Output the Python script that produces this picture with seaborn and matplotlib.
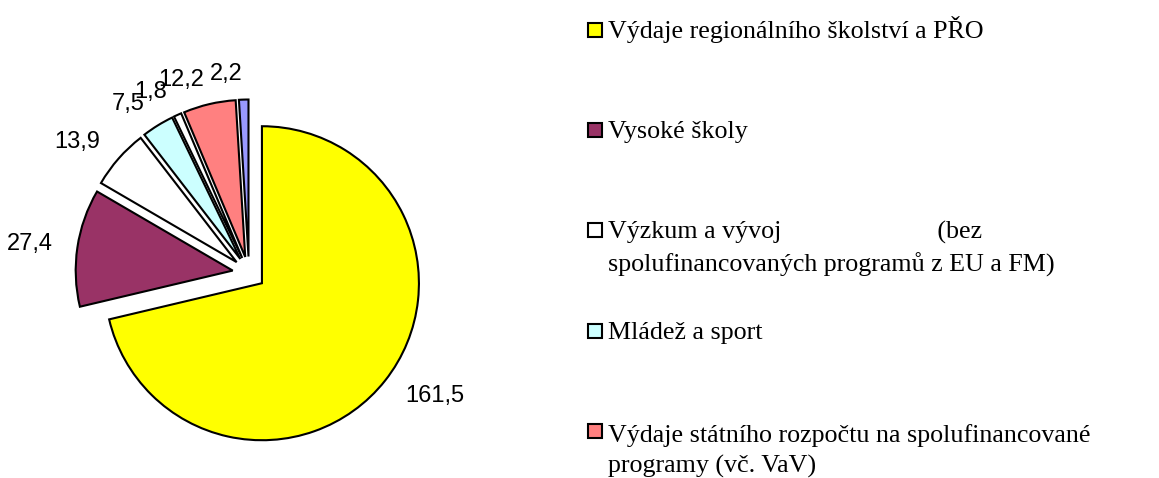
import matplotlib
matplotlib.use('Agg')
import matplotlib.pyplot as plt
import seaborn as sns
from matplotlib.patches import Rectangle

# slice values (mld Kč) in drawing order, clockwise from 12 o'clock
values = [161.5, 27.4, 13.9, 7.5, 1.8, 12.2, 2.2]
value_labels = ['161,5', '27,4', '13,9', '7,5', '1,8', '12,2', '2,2']
slice_colors = ['#FFFF00', '#993366', '#FFFFFF', '#CCFFFF', '#FFFFFF', '#FF8080', '#9999FF']

# legend entries visible in the picture
legend_names = [
    'Výdaje regionálního školství a PŘO',
    'Vysoké školy',
    'Výzkum a vývoj                        (bez\nspolufinancovaných programů z EU a FM)',
    'Mládež a sport',
    'Výdaje státního rozpočtu na spolufinancované\nprogramy (vč. VaV)',
]
legend_colors = ['#FFFF00', '#993366', '#FFFFFF', '#CCFFFF', '#FF8080']

sns.set_theme(style='white')
plt.rcParams['font.family'] = ['Liberation Sans', 'DejaVu Sans']

W, H, DPI = 1159, 478, 100
fig = plt.figure(figsize=(W / DPI, H / DPI), dpi=DPI)

# pie geometry in pixels
cx, cy, r_px = 249, 273, 157
ax_w = 560
ax = fig.add_axes([0, 0, ax_w / W, 1])
wedges, texts = ax.pie(
    values,
    colors=sns.color_palette(slice_colors),
    labels=value_labels,
    startangle=90,
    counterclock=False,
    explode=[0.105] * len(values),
    labeldistance=1.16,
    wedgeprops=dict(edgecolor='black', linewidth=1.5),
    textprops=dict(fontsize=17, color='black', family='Liberation Sans'),
)
ax.set_aspect('auto')
ax.set_xlim(-cx / r_px, (ax_w - cx) / r_px)
ax.set_ylim(-(H - cy) / r_px, cy / r_px)
ax.axis('off')

# legend drawn by hand to keep the Excel-like fixed slots
baselines = [38, 138, 238, 339, 439]
line_gap = 33.5
for name, col, yb in zip(legend_names, legend_colors, baselines):
    fig.add_artist(Rectangle((588 / W, 1 - (yb - 1) / H), 14 / W, 14 / H,
                             transform=fig.transFigure, facecolor=col,
                             edgecolor='black', linewidth=1.5))
    # matplotlib aligns the last line's baseline, so shift down for wrapped entries
    y_last = yb + line_gap * name.count('\n')
    fig.text(608 / W, 1 - y_last / H, name, va='baseline', ha='left',
             fontsize=18.75, family='Liberation Serif', color='black',
             linespacing=1.45)

fig.savefig('out.png', dpi=DPI, facecolor='white')
